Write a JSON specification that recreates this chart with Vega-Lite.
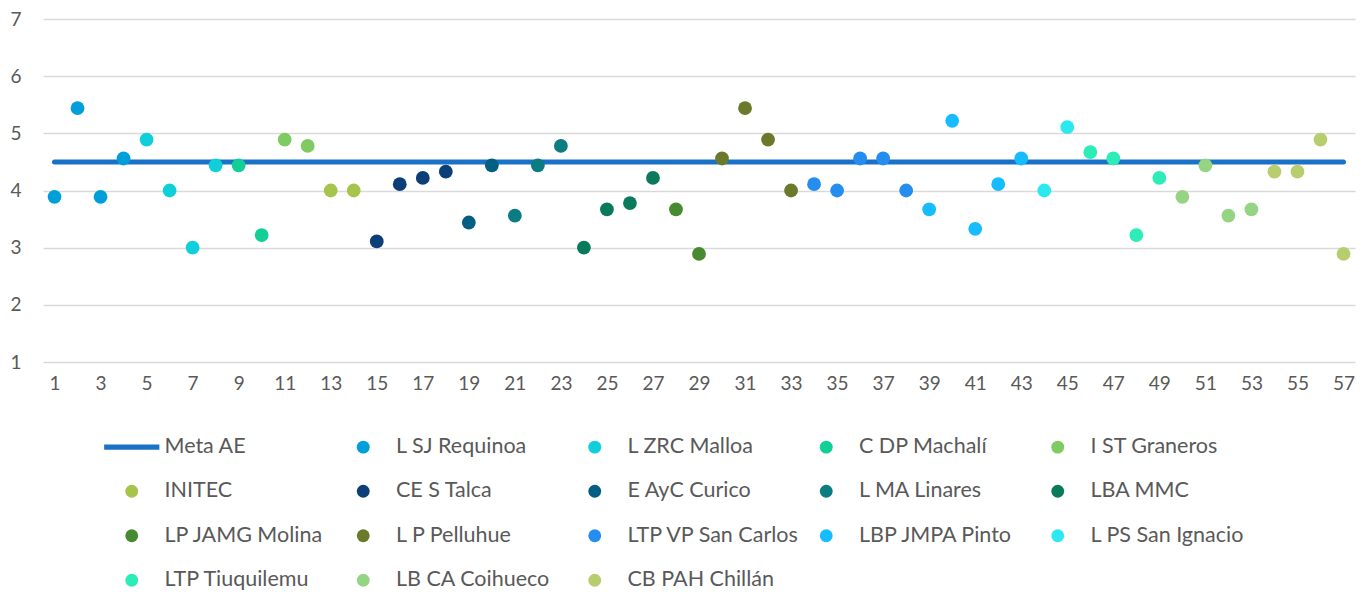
{
  "$schema": "https://vega.github.io/schema/vega-lite/v6.json",
  "width": 1312,
  "height": 343,
  "autosize": "none",
  "padding": {"left": 43, "top": 19, "right": 12, "bottom": 230},
  "background": "white",
  "config": {
    "view": {"stroke": null},
    "font": "Lato",
    "axis": {"labelFont": "Lato", "labelFontSize": 19, "labelColor": "#595959", "title": null, "domain": false, "ticks": false},
    "legend": {"labelFont": "Lato", "labelFontSize": 21.5, "labelColor": "#595959", "labelLimit": 400}
  },
  "data": {"values": [
    {"x": 1, "s": "L SJ Requinoa", "v": 3.89, "m": 4.5},
    {"x": 2, "s": "L SJ Requinoa", "v": 5.44, "m": 4.5},
    {"x": 3, "s": "L SJ Requinoa", "v": 3.89, "m": 4.5},
    {"x": 4, "s": "L SJ Requinoa", "v": 4.56, "m": 4.5},
    {"x": 5, "s": "L ZRC Malloa", "v": 4.89, "m": 4.5},
    {"x": 6, "s": "L ZRC Malloa", "v": 4.0, "m": 4.5},
    {"x": 7, "s": "L ZRC Malloa", "v": 3.0, "m": 4.5},
    {"x": 8, "s": "L ZRC Malloa", "v": 4.44, "m": 4.5},
    {"x": 9, "s": "C DP Machalí", "v": 4.44, "m": 4.5},
    {"x": 10, "s": "C DP Machalí", "v": 3.22, "m": 4.5},
    {"x": 11, "s": "I ST Graneros", "v": 4.89, "m": 4.5},
    {"x": 12, "s": "I ST Graneros", "v": 4.78, "m": 4.5},
    {"x": 13, "s": "INITEC", "v": 4.0, "m": 4.5},
    {"x": 14, "s": "INITEC", "v": 4.0, "m": 4.5},
    {"x": 15, "s": "CE S Talca", "v": 3.11, "m": 4.5},
    {"x": 16, "s": "CE S Talca", "v": 4.11, "m": 4.5},
    {"x": 17, "s": "CE S Talca", "v": 4.22, "m": 4.5},
    {"x": 18, "s": "CE S Talca", "v": 4.33, "m": 4.5},
    {"x": 19, "s": "E AyC Curico", "v": 3.44, "m": 4.5},
    {"x": 20, "s": "E AyC Curico", "v": 4.44, "m": 4.5},
    {"x": 21, "s": "L MA Linares", "v": 3.56, "m": 4.5},
    {"x": 22, "s": "L MA Linares", "v": 4.44, "m": 4.5},
    {"x": 23, "s": "L MA Linares", "v": 4.78, "m": 4.5},
    {"x": 24, "s": "LBA MMC", "v": 3.0, "m": 4.5},
    {"x": 25, "s": "LBA MMC", "v": 3.67, "m": 4.5},
    {"x": 26, "s": "LBA MMC", "v": 3.78, "m": 4.5},
    {"x": 27, "s": "LBA MMC", "v": 4.22, "m": 4.5},
    {"x": 28, "s": "LP JAMG Molina", "v": 3.67, "m": 4.5},
    {"x": 29, "s": "LP JAMG Molina", "v": 2.89, "m": 4.5},
    {"x": 30, "s": "L P Pelluhue", "v": 4.56, "m": 4.5},
    {"x": 31, "s": "L P Pelluhue", "v": 5.44, "m": 4.5},
    {"x": 32, "s": "L P Pelluhue", "v": 4.89, "m": 4.5},
    {"x": 33, "s": "L P Pelluhue", "v": 4.0, "m": 4.5},
    {"x": 34, "s": "LTP VP San Carlos", "v": 4.11, "m": 4.5},
    {"x": 35, "s": "LTP VP San Carlos", "v": 4.0, "m": 4.5},
    {"x": 36, "s": "LTP VP San Carlos", "v": 4.56, "m": 4.5},
    {"x": 37, "s": "LTP VP San Carlos", "v": 4.56, "m": 4.5},
    {"x": 38, "s": "LTP VP San Carlos", "v": 4.0, "m": 4.5},
    {"x": 39, "s": "LBP JMPA Pinto", "v": 3.67, "m": 4.5},
    {"x": 40, "s": "LBP JMPA Pinto", "v": 5.22, "m": 4.5},
    {"x": 41, "s": "LBP JMPA Pinto", "v": 3.33, "m": 4.5},
    {"x": 42, "s": "LBP JMPA Pinto", "v": 4.11, "m": 4.5},
    {"x": 43, "s": "LBP JMPA Pinto", "v": 4.56, "m": 4.5},
    {"x": 44, "s": "L PS San Ignacio", "v": 4.0, "m": 4.5},
    {"x": 45, "s": "L PS San Ignacio", "v": 5.11, "m": 4.5},
    {"x": 46, "s": "LTP Tiuquilemu", "v": 4.67, "m": 4.5},
    {"x": 47, "s": "LTP Tiuquilemu", "v": 4.56, "m": 4.5},
    {"x": 48, "s": "LTP Tiuquilemu", "v": 3.22, "m": 4.5},
    {"x": 49, "s": "LTP Tiuquilemu", "v": 4.22, "m": 4.5},
    {"x": 50, "s": "LB CA Coihueco", "v": 3.89, "m": 4.5},
    {"x": 51, "s": "LB CA Coihueco", "v": 4.44, "m": 4.5},
    {"x": 52, "s": "LB CA Coihueco", "v": 3.56, "m": 4.5},
    {"x": 53, "s": "LB CA Coihueco", "v": 3.67, "m": 4.5},
    {"x": 54, "s": "CB PAH Chillán", "v": 4.33, "m": 4.5},
    {"x": 55, "s": "CB PAH Chillán", "v": 4.33, "m": 4.5},
    {"x": 56, "s": "CB PAH Chillán", "v": 4.89, "m": 4.5},
    {"x": 57, "s": "CB PAH Chillán", "v": 2.89, "m": 4.5}
  ]},
  "encoding": {
    "x": {"field": "x", "type": "quantitative", "scale": {"domain": [0.5, 57.5], "nice": false, "zero": false},
      "axis": {"values": [1,3,5,7,9,11,13,15,17,19,21,23,25,27,29,31,33,35,37,39,41,43,45,47,49,51,53,55,57], "format": "d", "grid": false, "labelPadding": 12}}
  },
  "layer": [
    {
      "mark": {"type": "line", "color": "#1a72c8", "strokeWidth": 5, "strokeCap": "round"},
      "encoding": {
        "y": {"field": "m", "type": "quantitative", "scale": {"domain": [1, 7], "nice": false, "zero": false},
          "axis": {"values": [1,2,3,4,5,6,7], "format": "d", "grid": true, "gridColor": "#d9d9d9", "gridWidth": 1.3, "labelPadding": 22}}
      }
    },
    {
      "mark": {"type": "point", "filled": true, "opacity": 1, "size": 190, "strokeWidth": 0},
      "encoding": {
        "y": {"field": "v", "type": "quantitative"},
        "color": {"field": "s", "type": "nominal",
          "scale": {"domain": ["Meta AE","L SJ Requinoa","L ZRC Malloa","C DP Machalí","I ST Graneros","INITEC","CE S Talca","E AyC Curico","L MA Linares","LBA MMC","LP JAMG Molina","L P Pelluhue","LTP VP San Carlos","LBP JMPA Pinto","L PS San Ignacio","LTP Tiuquilemu","LB CA Coihueco","CB PAH Chillán"],
            "range": ["#1a72c8","#009fda","#0fd0da","#12cf98","#7fcb62","#a6c34a","#0c3f77","#035e84","#0a7c82","#0a7a5c","#478a2f","#6a7a2a","#248ded","#16bcfd","#2ce8f0","#2cecb8","#95d483","#b8cd6d"]},
          "legend": {"title": null, "orient": "none", "direction": "horizontal", "legendX": 78, "legendY": 417, "columns": 5, "gridAlign": "all", "columnPadding": 15.5, "rowPadding": 21.5, "symbolSize": 165, "labelOffset": 22, "labelLimit": 400, "symbolStrokeWidth": 0, "padding": 0}},
        "shape": {"field": "s", "type": "nominal",
          "scale": {"domain": ["Meta AE","L SJ Requinoa","L ZRC Malloa","C DP Machalí","I ST Graneros","INITEC","CE S Talca","E AyC Curico","L MA Linares","LBA MMC","LP JAMG Molina","L P Pelluhue","LTP VP San Carlos","LBP JMPA Pinto","L PS San Ignacio","LTP Tiuquilemu","LB CA Coihueco","CB PAH Chillán"],
            "range": ["M-4.3,-0.4L4.3,-0.4L4.3,0.4L-4.3,0.4Z","circle","circle","circle","circle","circle","circle","circle","circle","circle","circle","circle","circle","circle","circle","circle","circle","circle"]},
          "legend": {"title": null, "orient": "none", "direction": "horizontal", "legendX": 78, "legendY": 417, "columns": 5, "gridAlign": "all", "columnPadding": 15.5, "rowPadding": 21.5, "symbolSize": 165, "labelOffset": 22, "labelLimit": 400, "symbolStrokeWidth": 0, "padding": 0}}
      }
    }
  ]
}
